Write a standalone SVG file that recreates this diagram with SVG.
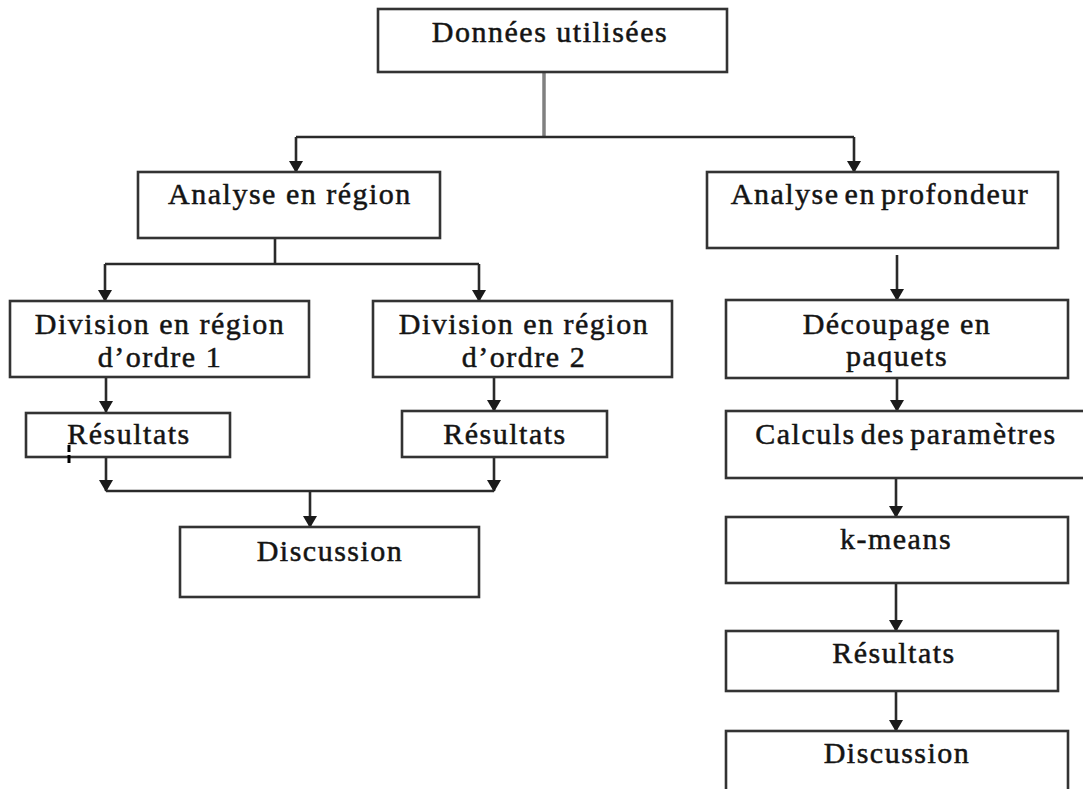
<svg xmlns="http://www.w3.org/2000/svg" width="1083" height="789" viewBox="0 0 1083 789">
<defs>
<style>
.box{fill:#fff;stroke:#333;stroke-width:2.6}
.t{font-family:"Liberation Serif","Times New Roman",serif;font-size:30px;letter-spacing:1.5px;fill:#141414;text-anchor:middle;stroke:#141414;stroke-width:0.5}
.ln{fill:none;stroke:#2a2a2a;stroke-width:2.6}
.grey{fill:none;stroke:#808080;stroke-width:3.5}
</style>
<marker id="arr" markerUnits="userSpaceOnUse" markerWidth="13" markerHeight="14" refX="11" refY="7" orient="auto" viewBox="0 0 12 14">
<path d="M0,0 L12,7 L0,14 Z" fill="#1a1a1a"/>
</marker>
</defs>
<rect width="1083" height="789" fill="#fff"/>
<g id="connectors">
<path class="grey" d="M544,72 V137"/>
<path class="ln" d="M296,137 H854"/>
<path class="ln" d="M296,137 V172" marker-end="url(#arr)"/>
<path class="ln" d="M854,137 V172" marker-end="url(#arr)"/>
<path class="ln" d="M275,238 V264 M105,264 H479"/>
<path class="ln" d="M105,264 V301" marker-end="url(#arr)"/>
<path class="ln" d="M479,264 V301" marker-end="url(#arr)"/>
<path class="ln" d="M106,377 V412" marker-end="url(#arr)"/>
<path class="ln" d="M494,377 V411" marker-end="url(#arr)"/>
<path class="ln" d="M106,457 V491" marker-end="url(#arr)"/>
<path class="ln" d="M494,457 V491" marker-end="url(#arr)"/>
<path class="ln" d="M106,491 H494"/>
<path class="ln" d="M310,491 V527" marker-end="url(#arr)"/>
<path class="ln" d="M897,255 V300" marker-end="url(#arr)"/>
<path class="ln" d="M897,378 V411" marker-end="url(#arr)"/>
<path class="ln" d="M896,478 V517" marker-end="url(#arr)"/>
<path class="ln" d="M896,583 V631" marker-end="url(#arr)"/>
<path class="ln" d="M896,691 V731" marker-end="url(#arr)"/>
</g>
<g id="n-donnees"><rect class="box" x="378" y="9" width="349" height="63"/><text class="t" x="550" y="42">Données utilisées</text></g>
<g id="n-analyse-region"><rect class="box" x="138" y="172" width="302" height="66"/><text class="t" x="290" y="204">Analyse en région</text></g>
<g id="n-analyse-profondeur"><rect class="box" x="707" y="172" width="351" height="76"/><text class="t" x="880" y="204" word-spacing="-4">Analyse en profondeur</text></g>
<g id="n-division1"><rect class="box" x="10" y="301" width="299" height="76"/><text class="t" x="160" y="334">Division en région</text><text class="t" x="160" y="367">d’ordre 1</text></g>
<g id="n-division2"><rect class="box" x="373" y="301" width="299" height="76"/><text class="t" x="524" y="334">Division en région</text><text class="t" x="524" y="367">d’ordre 2</text></g>
<g id="n-resultats1"><rect class="box" x="26" y="413" width="204" height="44"/><text class="t" x="129" y="444">Résultats</text><path d="M69,445 V452 M69,455 V463" stroke="#000" stroke-width="3"/></g>
<g id="n-resultats2"><rect class="box" x="402" y="411" width="205" height="46"/><text class="t" x="505" y="444">Résultats</text></g>
<g id="n-discussion1"><rect class="box" x="180" y="527" width="299" height="70"/><text class="t" x="330" y="561">Discussion</text></g>
<g id="n-decoupage"><rect class="box" x="726" y="300" width="342" height="78"/><text class="t" x="897" y="334">Découpage en</text><text class="t" x="897" y="366">paquets</text></g>
<g id="n-calculs"><rect class="box" x="726" y="411" width="370" height="67"/><text class="t" x="906" y="444" word-spacing="-4">Calculs des paramètres</text></g>
<g id="n-kmeans"><rect class="box" x="726" y="517" width="342" height="66"/><text class="t" x="896" y="549">k-means</text></g>
<g id="n-resultats3"><rect class="box" x="726" y="631" width="332" height="60"/><text class="t" x="894" y="663">Résultats</text></g>
<g id="n-discussion2"><rect class="box" x="726" y="731" width="342" height="80"/><text class="t" x="897" y="763">Discussion</text></g>
</svg>
